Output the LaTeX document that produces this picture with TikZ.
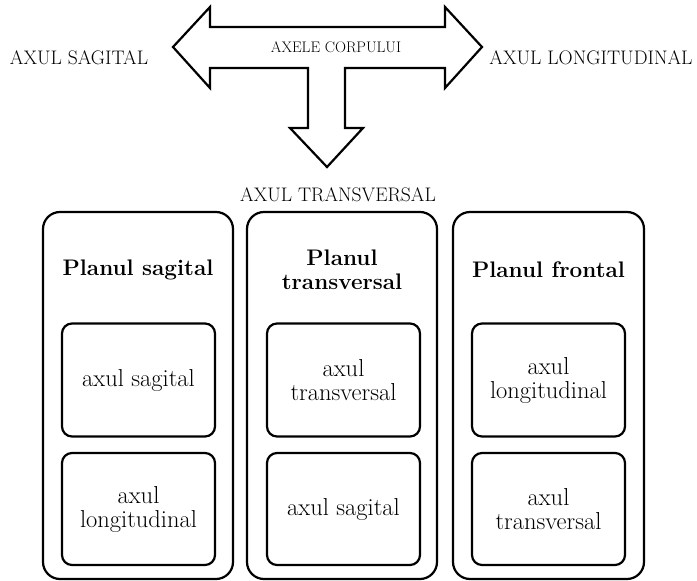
\documentclass[tikz,border=0pt]{standalone}
\usepackage{fontspec}
\begin{document}
\begin{tikzpicture}[x=1pt,y=-1pt,
  outerbox/.style={draw, line width=2.2pt, rounded corners=17pt, minimum width=190pt, minimum height=367pt, inner sep=0pt},
  innerbox/.style={draw, line width=2.2pt, rounded corners=10pt, minimum width=153pt, minimum height=113pt, align=center, inner sep=0pt, font=\fontsize{24.5}{24}\selectfont},
  titlelbl/.style={align=center, inner sep=0pt, font=\fontsize{22.5}{24}\selectfont\bfseries},
  axislbl/.style={inner sep=0pt, font=\fontsize{19.6}{22}\selectfont}
]
\useasboundingbox (0,0) rectangle (697,581);

% body axes arrow
\draw[line width=2.2pt, line join=miter]
  (173,47) -- (210,7) -- (210,27) -- (445,27) -- (445,7) -- (482,47)
  -- (445,88) -- (445,68) -- (345,68) -- (345,128) -- (363,128)
  -- (327,167) -- (290,128) -- (308,128) -- (308,68) -- (210,68)
  -- (210,88) -- cycle;
\node[inner sep=0pt, font=\fontsize{15.3}{17}\selectfont] (axele) at (336,47) {AXELE CORPULUI};

\node[axislbl] (sag) at (79,58) {AXUL SAGITAL};
\node[axislbl] (lon) at (591,58) {AXUL LONGITUDINAL};
\node[axislbl] (tra) at (338,195) {AXUL TRANSVERSAL};

% columns
\node[outerbox] (c1) at (138,395.5) {};
\node[outerbox] (c2) at (342,395.5) {};
\node[outerbox, minimum width=191pt] (c3) at (548.5,395.5) {};

\node[titlelbl] (t1) at (138,270) {Planul sagital};
\node[titlelbl] (t2) at (342,270) {Planul\\transversal};
\node[titlelbl] (t3) at (548.5,270) {Planul frontal};

\node[innerbox] (a1) at (138.5,380) {axul sagital};
\node[innerbox, minimum height=112pt] (b1) at (138.5,509) {axul\\longitudinal};
\node[innerbox] (a2) at (343.5,380) {axul\\transversal};
\node[innerbox, minimum height=112pt] (b2) at (343.5,509) {axul sagital};
\node[innerbox] (a3) at (548.5,380) {axul\\longitudinal};
\node[innerbox, minimum height=112pt] (b3) at (548.5,509) {axul\\transversal};
\end{tikzpicture}
\end{document}
